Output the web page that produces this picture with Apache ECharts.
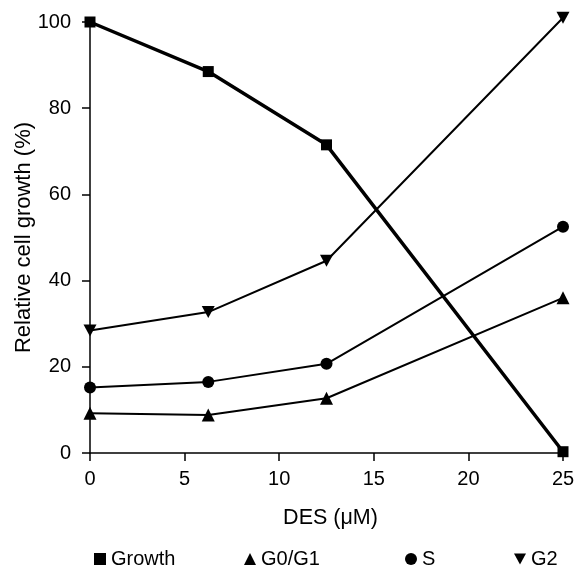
<!DOCTYPE html>
<html>
<head>
<meta charset="utf-8">
<script src="https://cdn.jsdelivr.net/npm/echarts@6/dist/echarts.min.js"></script>
<style>html,body{margin:0;padding:0;background:#fff;}#c{width:577px;height:570px;}</style>
</head>
<body>
<div id="c"></div>
<script>
const desDoses = [0, 6.25, 12.5, 25];
const growth = [100, 88.5, 71.5, 0.3];
const g0g1 = [9.2, 8.8, 12.7, 36];
const sPhase = [15.2, 16.5, 20.7, 52.5];
const g2 = [28.4, 32.7, 44.6, 101];
const xTicks = [0, 5, 10, 15, 20, 25];
const yTicks = [0, 20, 40, 60, 80, 100];

const FONT = '"Liberation Sans", Arial, Helvetica, sans-serif';
const downTri = 'path://M0,0 L10,0 L5,9 Z';
const pairs = arr => desDoses.map((x, i) => [x, arr[i]]);

const chart = echarts.init(document.getElementById('c'), null, {renderer: 'canvas'});
const legendBase = {
  top: 549, padding: 0, itemWidth: 12, itemHeight: 12, itemGap: 9,
  textStyle: {fontFamily: FONT, fontSize: 20, color: '#000'},
  selectedMode: false
};
chart.setOption({
  backgroundColor: '#fff',
  animation: false,
  grid: {left: 90, right: 14, top: 22, bottom: 117, containLabel: false, outerBoundsMode: 'none'},
  xAxis: {
    type: 'value', min: xTicks[0], max: xTicks[xTicks.length - 1], interval: 5,
    name: 'DES (\u03bcM)', nameLocation: 'middle', nameGap: 54, nameMoveOverlap: false,
    nameTextStyle: {fontFamily: FONT, fontSize: 21.5, color: '#000', padding: [0, 0, 0, 8]},
    axisLine: {show: true, onZero: false, lineStyle: {color: '#000', width: 1.5}},
    axisTick: {show: true, length: 8, lineStyle: {color: '#000', width: 1.5}},
    axisLabel: {fontFamily: FONT, fontSize: 20, color: '#000', margin: 16},
    splitLine: {show: false}
  },
  yAxis: {
    type: 'value', min: yTicks[0], max: yTicks[yTicks.length - 1], interval: 20,
    name: 'Relative cell growth (%)', nameLocation: 'middle', nameGap: 55, nameMoveOverlap: false,
    nameTextStyle: {fontFamily: FONT, fontSize: 22, color: '#000'},
    axisLine: {show: true, onZero: false, lineStyle: {color: '#000', width: 1.5}},
    axisTick: {show: true, length: 8, lineStyle: {color: '#000', width: 1.5}},
    axisLabel: {fontFamily: FONT, fontSize: 20, color: '#000', margin: 19},
    splitLine: {show: false}
  },
  legend: [
    Object.assign({}, legendBase, {left: 94, data: [{name: 'Growth', icon: 'rect'}]}),
    Object.assign({}, legendBase, {left: 244, data: [{name: 'G0/G1', icon: 'triangle'}]}),
    Object.assign({}, legendBase, {left: 405, data: [{name: 'S', icon: 'circle'}]}),
    Object.assign({}, legendBase, {left: 514, data: [{name: 'G2', icon: downTri}]})
  ],
  series: [
    {name: 'Growth', type: 'line', data: pairs(growth), clip: false,
     symbol: 'rect', symbolSize: 11, lineStyle: {color: '#000', width: 3.5},
     itemStyle: {color: '#000'}, z: 5},
    {name: 'G0/G1', type: 'line', data: pairs(g0g1), clip: false,
     symbol: 'triangle', symbolSize: 13, lineStyle: {color: '#000', width: 2},
     itemStyle: {color: '#000'}},
    {name: 'S', type: 'line', data: pairs(sPhase), clip: false,
     symbol: 'circle', symbolSize: 12, lineStyle: {color: '#000', width: 2},
     itemStyle: {color: '#000'}},
    {name: 'G2', type: 'line', data: pairs(g2), clip: false,
     symbol: downTri, symbolSize: [13, 12], lineStyle: {color: '#000', width: 2},
     itemStyle: {color: '#000'}}
  ]
});
</script>
</body>
</html>
